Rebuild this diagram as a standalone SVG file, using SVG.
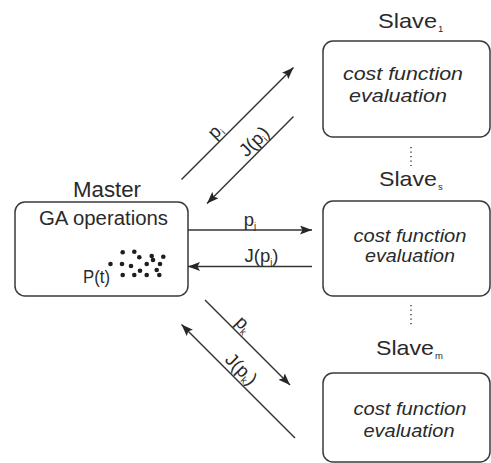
<svg xmlns="http://www.w3.org/2000/svg" width="491" height="463" viewBox="0 0 491 463">
<defs>
<marker id="ah" viewBox="0 0 12 9" refX="12" refY="4.5" markerWidth="12" markerHeight="9" markerUnits="userSpaceOnUse" orient="auto">
<path d="M0,0 L12,4.5 L0,9 L2.5,4.5 z" fill="#262626"/>
</marker>
</defs>
<style>
text{font-family:"Liberation Sans",Arial,sans-serif;fill:#2a2a2a}
.box{fill:#fff;stroke:#3a3a3a;stroke-width:1.5}
.title{font-size:21px}
.it{font-style:italic;font-size:19px}
.lbl{font-size:18.5px}
.sub{font-size:9.5px}
.conn line{stroke:#333;stroke-width:1.4}
.dots{stroke:#444;stroke-width:1.3;stroke-dasharray:1.3 3.2}
.pop circle{fill:#1e1e1e}
</style>
<rect width="491" height="463" fill="#fff"/>
<g id="master">
<text x="73" y="197" style="font-size:21.5px" textLength="68" lengthAdjust="spacingAndGlyphs">Master</text>
<rect class="box" x="15" y="202" width="173" height="94" rx="10"/>
<text x="39" y="225" style="font-size:19.5px" textLength="129" lengthAdjust="spacingAndGlyphs">GA operations</text>
<text x="83" y="283" style="font-size:18px" textLength="27" lengthAdjust="spacingAndGlyphs">P(t)</text>
<g class="pop">
<circle cx="110.5" cy="264" r="2.3"/>
<circle cx="122.7" cy="252.3" r="2.3"/>
<circle cx="134.3" cy="251.7" r="2.3"/>
<circle cx="139.3" cy="257.3" r="2.3"/>
<circle cx="151.7" cy="256" r="2.3"/>
<circle cx="153" cy="260" r="2.3"/>
<circle cx="163.3" cy="256.7" r="2.3"/>
<circle cx="122" cy="264" r="2.3"/>
<circle cx="131" cy="266" r="2.3"/>
<circle cx="146.7" cy="264" r="2.3"/>
<circle cx="160" cy="264" r="2.3"/>
<circle cx="140" cy="270.7" r="2.3"/>
<circle cx="156.7" cy="270" r="2.3"/>
<circle cx="122.7" cy="275" r="2.3"/>
<circle cx="134.3" cy="275" r="2.3"/>
<circle cx="146.7" cy="275" r="2.3"/>
<circle cx="159.3" cy="275" r="2.3"/>
</g>
</g>
<g id="slave1">
<text class="title" x="378" y="28" textLength="59" lengthAdjust="spacingAndGlyphs">Slave</text>
<text class="sub" x="438" y="32">1</text>
<rect class="box" x="323" y="41" width="167" height="96" rx="10"/>
<text class="it" x="343" y="80" textLength="120" lengthAdjust="spacingAndGlyphs">cost function</text>
<text class="it" x="349" y="101.5" textLength="98" lengthAdjust="spacingAndGlyphs">evaluation</text>
</g>
<g id="slaves">
<text class="title" x="379" y="186" textLength="58" lengthAdjust="spacingAndGlyphs">Slave</text>
<text class="sub" x="438" y="190">s</text>
<rect class="box" x="323" y="201" width="167" height="95" rx="10"/>
<text class="it" x="353.5" y="241.5" textLength="113" lengthAdjust="spacingAndGlyphs">cost function</text>
<text class="it" x="365" y="262" textLength="90" lengthAdjust="spacingAndGlyphs">evaluation</text>
</g>
<g id="slavem">
<text class="title" x="376" y="355" textLength="58" lengthAdjust="spacingAndGlyphs">Slave</text>
<text class="sub" x="435" y="359">m</text>
<rect class="box" x="323" y="373" width="167" height="89" rx="10"/>
<text class="it" x="353.5" y="415" textLength="113" lengthAdjust="spacingAndGlyphs">cost function</text>
<text class="it" x="363.5" y="436.5" textLength="91" lengthAdjust="spacingAndGlyphs">evaluation</text>
</g>
<g id="connectors" class="conn">
<line x1="181.5" y1="179.5" x2="293.5" y2="67.5" marker-end="url(#ah)"/>
<line x1="293.5" y1="116.5" x2="207" y2="203.5" marker-end="url(#ah)"/>
<line x1="188" y1="230" x2="312" y2="230" marker-end="url(#ah)"/>
<line x1="312" y1="266.5" x2="188" y2="266.5" marker-end="url(#ah)"/>
<line x1="205" y1="300" x2="290" y2="385" marker-end="url(#ah)"/>
<line x1="295" y1="438" x2="181.5" y2="324.5" marker-end="url(#ah)"/>
<line class="dots" x1="411" y1="147" x2="411" y2="166"/>
<line class="dots" x1="411" y1="305" x2="411" y2="326"/>
<g id="labels">
<text class="lbl" transform="translate(219.5,135.5) rotate(-45)" text-anchor="middle">p<tspan class="sub" dy="3">i</tspan></text>
<text class="lbl" transform="translate(258.5,145.8) rotate(-45)" text-anchor="middle">J(p<tspan class="sub" dy="3">i</tspan><tspan dy="-3">)</tspan></text>
<text class="lbl" x="250" y="226" text-anchor="middle">p<tspan class="sub" dy="3">j</tspan></text>
<text class="lbl" x="261.5" y="262" text-anchor="middle">J(p<tspan class="sub" dy="3">j</tspan><tspan dy="-3">)</tspan></text>
<text class="lbl" transform="translate(239.5,328.5) rotate(45)" text-anchor="middle">p<tspan class="sub" dy="3">k</tspan></text>
<text class="lbl" transform="translate(237,373.5) rotate(45)" text-anchor="middle">J(p<tspan class="sub" dy="3">k</tspan><tspan dy="-3">)</tspan></text>
</g>
</g>
</svg>
